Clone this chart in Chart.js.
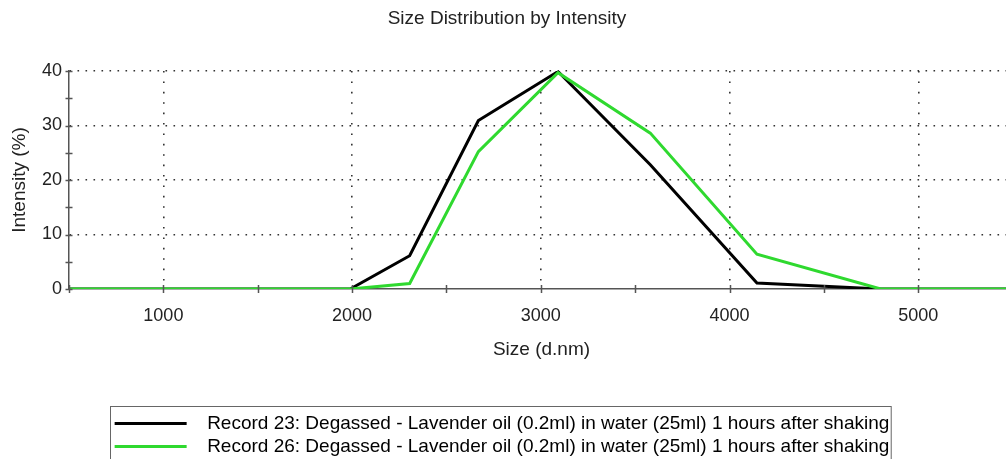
<!DOCTYPE html>
<html>
<head>
<meta charset="utf-8">
<script src="https://cdn.jsdelivr.net/npm/chart.js@4"></script>
<style>
  html, body { margin: 0; padding: 0; background: #fff; }
  /* the original picture is cut off on the right, so the canvas runs a bit past the frame */
  #wrap { width: 1006px; height: 459px; overflow: hidden; }
</style>
</head>
<body>
<div id="wrap"><canvas id="sizeChart" width="1014" height="459"></canvas></div>
<script>
// size bins (d.nm) and intensity (%)
const sizes = [459, 531, 615, 712, 825, 955, 1106, 1281, 1484, 1718, 1990, 2305, 2669, 3091, 3580, 4145, 4801, 5560];
const record23 = [0, 0, 0, 0, 0, 0, 0, 0, 0, 0, 0, 6.1, 30.9, 39.9, 22.8, 1.1, 0, 0];
const record26 = [0, 0, 0, 0, 0, 0, 0, 0, 0, 0, 0, 1.0, 25.2, 39.7, 28.6, 6.4, 0, 0];
const seriesLabels = [
    'Record 23: Degassed - Lavender oil (0.2ml) in water (25ml) 1 hours after shaking',
    'Record 26: Degassed - Lavender oil (0.2ml) in water (25ml) 1 hours after shaking'
];
// tick positions; labels only on the major ones
const xTicks = [500, 1000, 1500, 2000, 2500, 3000, 3500, 4000, 4500, 5000, 5500];
const yTicks = [0, 5, 10, 15, 20, 25, 30, 35, 40];
const xMajor = 1000;
const yMajor = 10;

const FONT = '"Liberation Sans", Arial, sans-serif';

function toPoints(values) {
    return sizes.map((s, i) => ({ x: s, y: values[i] }));
}

// crossing tick marks on both axes + box round the legend
const axisMarks = {
    id: 'axisMarks',
    afterLayout(chart) {
        // legend sits a little left of the plot centre in the original
        chart.legend.left -= 5;
        chart.legend.right -= 5;
    },
    afterDraw(chart) {
        const ctx = chart.ctx;
        const area = chart.chartArea;
        const xs = chart.scales.x, ys = chart.scales.y;
        ctx.save();
        ctx.strokeStyle = '#555';
        ctx.lineWidth = 1.5;
        ctx.beginPath();
        xs.ticks.forEach(t => {
            const px = Math.round(xs.getPixelForValue(t.value)) + 0.5;
            ctx.moveTo(px, area.bottom - 4);
            ctx.lineTo(px, area.bottom + 4);
        });
        ys.ticks.forEach(t => {
            const py = Math.round(ys.getPixelForValue(t.value)) + 0.5;
            ctx.moveTo(area.left - 3.5, py);
            ctx.lineTo(area.left + 3.5, py);
        });
        ctx.stroke();

        const boxes = chart.legend.legendHitBoxes;
        if (boxes && boxes.length) {
            const left = Math.min(...boxes.map(b => b.left));
            const right = Math.max(...boxes.map(b => b.left + b.width));
            const top = Math.min(...boxes.map(b => b.top));
            ctx.strokeStyle = '#666';
            ctx.lineWidth = 1;
            ctx.strokeRect(Math.round(left) - 4.5, Math.round(top) - 7.5, right - left + 6, 80);
        }
        ctx.restore();
    }
};

new Chart(document.getElementById('sizeChart'), {
    type: 'line',
    data: {
        datasets: [{
            label: seriesLabels[0],
            data: toPoints(record23),
            borderColor: '#000000',
            backgroundColor: '#000000',
            borderWidth: 3,
            pointRadius: 0,
            tension: 0,
            order: 1
        }, {
            label: seriesLabels[1],
            data: toPoints(record26),
            borderColor: '#2fd92f',
            backgroundColor: '#2fd92f',
            borderWidth: 3,
            pointRadius: 0,
            tension: 0,
            order: 0
        }]
    },
    options: {
        responsive: false,
        animation: false,
        layout: {
            padding: { left: 0, right: 0, top: 0, bottom: -7 }
        },
        plugins: {
            title: {
                display: true,
                text: 'Size Distribution by Intensity',
                color: '#222',
                font: { family: FONT, size: 19, weight: 'normal' },
                padding: { top: 7, bottom: 41.2 }
            },
            legend: {
                position: 'bottom',
                labels: {
                    color: '#000',
                    font: { family: FONT, size: 19 },
                    boxWidth: 83,
                    boxHeight: 0,
                    padding: 4,
                    sort: (a, b) => a.datasetIndex - b.datasetIndex,
                    generateLabels(chart) {
                        const items = Chart.defaults.plugins.legend.labels.generateLabels(chart);
                        items.forEach(it => {
                            it.lineWidth = 3;
                            it.lineDash = [72, 300];
                            it.lineDashOffset = 0;
                            it.lineCap = 'butt';
                        });
                        return items;
                    }
                }
            },
            tooltip: { enabled: false }
        },
        scales: {
            x: {
                type: 'linear',
                bounds: 'data',
                min: 500,
                max: 5507,
                afterBuildTicks(scale) {
                    scale.ticks = xTicks.map(v => ({ value: v }));
                },
                afterFit(scale) {
                    scale.height = 121;
                    scale.paddingLeft = 0;
                    scale.paddingRight = 0;
                },
                ticks: {
                    padding: 16,
                    color: '#222',
                    font: { family: FONT, size: 18 },
                    maxRotation: 0,
                    autoSkip: false,
                    callback: v => (v % xMajor === 0 ? String(v) : '')
                },
                grid: {
                    drawTicks: false,
                    lineWidth: 1.6,
                    color: c => (c.tick && c.tick.value % xMajor === 0 ? '#333' : 'rgba(0,0,0,0)')
                },
                border: { display: true, color: '#555', width: 1.5, dash: [1.6, 8.8] },
                title: {
                    display: true,
                    text: 'Size (d.nm)',
                    color: '#222',
                    font: { family: FONT, size: 19 },
                    padding: { top: 0, bottom: 49 }
                }
            },
            y: {
                min: 0,
                max: 40,
                afterBuildTicks(scale) {
                    scale.ticks = yTicks.map(v => ({ value: v }));
                },
                afterFit(scale) { scale.width = 69; },
                ticks: {
                    padding: 7,
                    color: '#222',
                    font: { family: FONT, size: 18 },
                    autoSkip: false,
                    callback: v => (v % yMajor === 0 ? String(v) : '')
                },
                grid: {
                    drawTicks: false,
                    lineWidth: 1.6,
                    color: c => (c.tick && c.tick.value % yMajor === 0 && c.tick.value > 0 ? '#333' : 'rgba(0,0,0,0)')
                },
                border: { display: true, color: '#555', width: 1.5, dash: [1.6, 6.4] },
                title: {
                    display: true,
                    text: 'Intensity (%)',
                    color: '#222',
                    font: { family: FONT, size: 19 },
                    padding: { top: 8, bottom: 0 }
                }
            }
        }
    },
    plugins: [axisMarks]
});
</script>
</body>
</html>
